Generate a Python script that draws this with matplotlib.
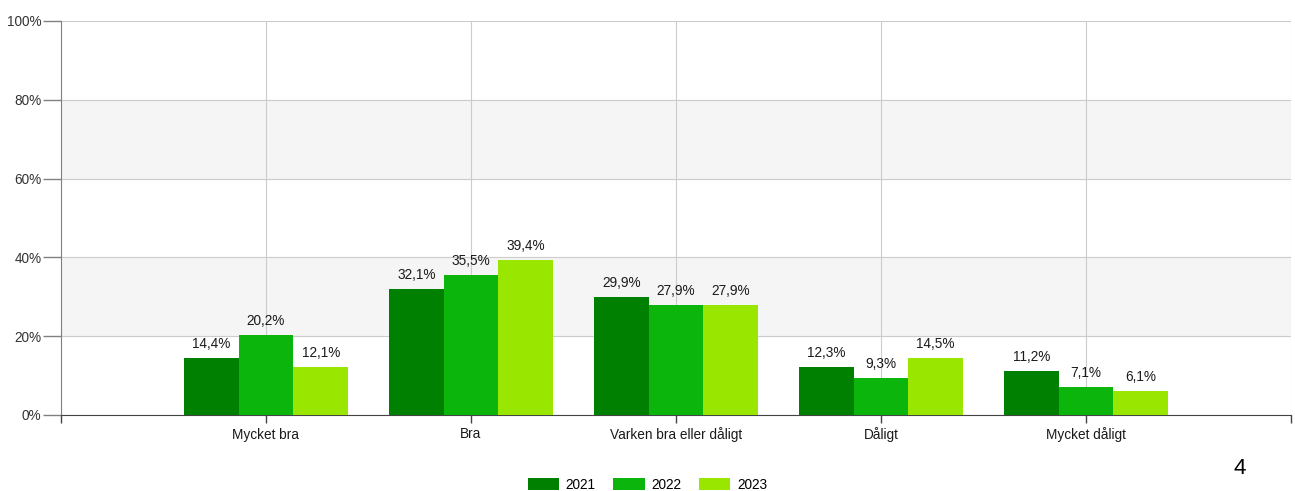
import matplotlib
matplotlib.use("Agg")
import matplotlib.pyplot as plt
import numpy as np

plt.rcParams['font.family'] = ['Liberation Sans', 'DejaVu Sans']

categories = ['Mycket bra', 'Bra', 'Varken bra eller dåligt', 'Dåligt', 'Mycket dåligt']
years = ['2021', '2022', '2023']
values_2021 = [14.4, 32.1, 29.9, 12.3, 11.2]
values_2022 = [20.2, 35.5, 27.9, 9.3, 7.1]
values_2023 = [12.1, 39.4, 27.9, 14.5, 6.1]
colors = ['#008000', '#0cb50c', '#99e600']

fig = plt.figure(figsize=(12.95, 4.91), dpi=100)
ax = fig.add_axes([61 / 1295, 1 - 415 / 491, (1291 - 61) / 1295, (415 - 21) / 491])

x = np.arange(1, len(categories) + 1)
w = 0.267
series = [values_2021, values_2022, values_2023]

# alternerande grå band
for lo in (20, 60):
    ax.axhspan(lo, lo + 20, color='#f5f5f5', zorder=0)

for i, (vals, year, col) in enumerate(zip(series, years, colors)):
    bars = ax.bar(x + (i - 1) * w, vals, w, color=col, label=year, zorder=3)
    for b, v in zip(bars, vals):
        ax.annotate(f'{v:.1f}%'.replace('.', ','),
                    (b.get_x() + b.get_width() / 2, v),
                    xytext=(0, 5), textcoords='offset points',
                    ha='center', va='bottom', fontsize=9.8, color='#1a1a1a')

ax.set_xlim(0, 6)
ax.set_ylim(0, 100)
ax.set_yticks(range(0, 101, 20))
ax.set_yticklabels([f'{t}%' for t in range(0, 101, 20)], fontsize=9.8, color='#333333')
ax.set_xticks(range(0, 7))
ax.set_xticklabels([''] + categories + [''], fontsize=9.8, color='#1a1a1a')
ax.tick_params(axis='y', length=13, width=1, color='#808080', pad=1)
ax.tick_params(axis='x', length=6, width=1, color='#444444', pad=3)

ax.grid(True, color='#cccccc', linewidth=0.8, zorder=1)
ax.set_axisbelow(True)
for s in ('top', 'right'):
    ax.spines[s].set_visible(False)
ax.spines['left'].set_color('#808080')
ax.spines['bottom'].set_color('#444444')

leg = fig.legend(loc='center', bbox_to_anchor=(0.5, 1 - 485 / 491), ncol=3,
                 frameon=False, fontsize=9.8, handlelength=2.3, handleheight=1.0,
                 columnspacing=1.3, handletextpad=0.5)

fig.text(1240 / 1295, 1 - 469 / 491, '4', fontsize=16, ha='center', va='center')

fig.savefig('out.png', dpi=100)
